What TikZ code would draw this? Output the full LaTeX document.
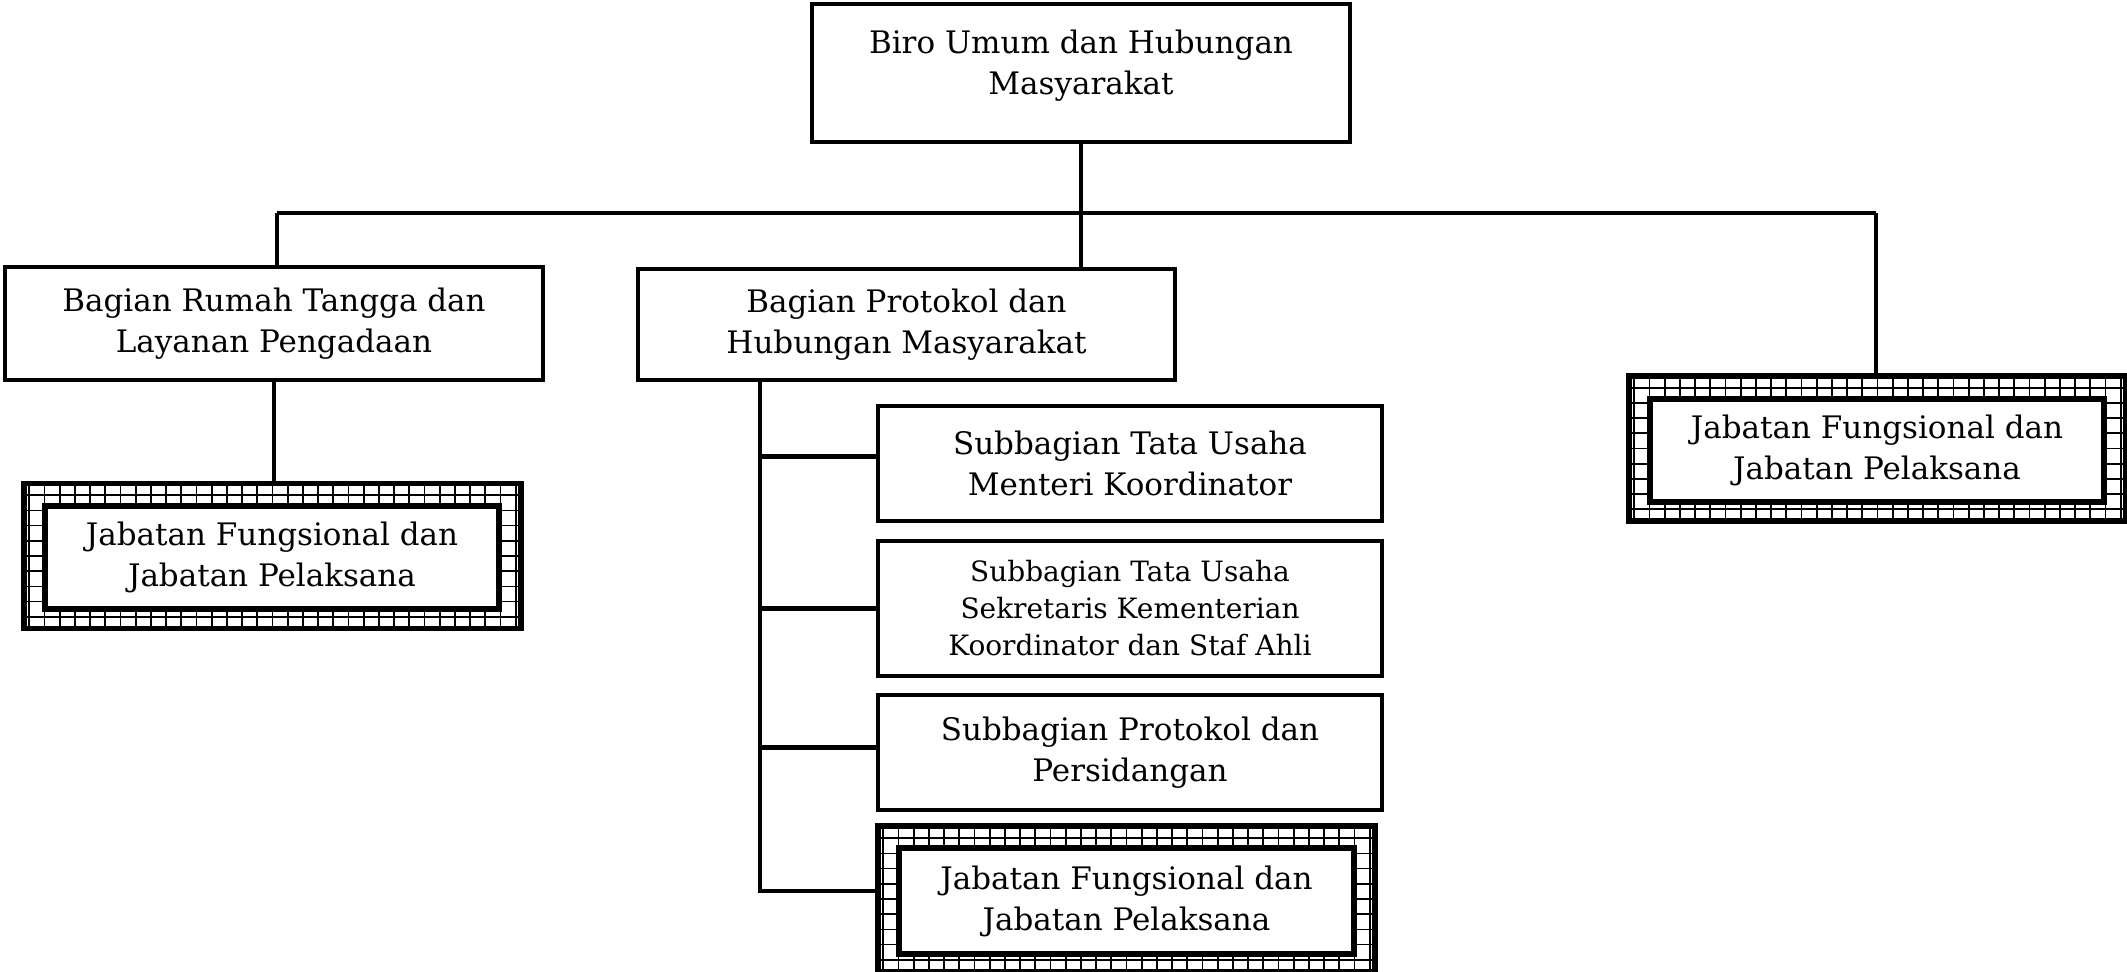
\documentclass[tikz,border=0pt]{standalone}
\usepackage{fontspec}
\setmainfont{DejaVu Serif}
\usepackage{tikz}
\tikzstyle{unit} = [rectangle, draw=black, line width=2.3pt, fill=white, align=center, inner sep=0pt, font=\fontsize{15.5}{20.5}\selectfont]
\tikzstyle{unitsmall} = [unit, font=\fontsize{14}{18.5}\selectfont]
\tikzstyle{jabout} = [rectangle, draw=black, line width=2.6pt, inner sep=0pt, minimum width=248.5pt, minimum height=72.5pt,
  path picture={\draw[line width=0.85pt, step=7.6pt, xshift=1pt, yshift=1pt] ([shift={(-8pt,-8pt)}]path picture bounding box.south west) grid ([shift={(8pt,8pt)}]path picture bounding box.north east);}]
\tikzstyle{jabin} = [unit, line width=2.6pt, minimum width=227pt, minimum height=51.5pt]
\tikzstyle{garis} = [line width=2.3pt]

\begin{document}
\begin{tikzpicture}[x=0.5pt, y=-0.5pt]
    \useasboundingbox (0,0) rectangle (2127,971);

    % pimpinan
    \node (biro) [unit, minimum width=269pt, minimum height=69pt] at (1081,73) {Biro Umum dan Hubungan\\Masyarakat\\[-9.5pt]};

    % bagian
    \node (rumah) [unit, minimum width=269pt, minimum height=56.5pt] at (274,323.5) {Bagian Rumah Tangga dan\\Layanan Pengadaan};
    \node (protokol) [unit, minimum width=268.5pt, minimum height=55.5pt] at (906.5,324.5) {Bagian Protokol dan\\Hubungan Masyarakat};

    % jabatan fungsional
    \node (jf1out) [jabout] at (272.5,556) {};
    \node (jf1) [jabin] at (272,557.5) {Jabatan Fungsional dan\\Jabatan Pelaksana};
    \node (jf3out) [jabout] at (1877.5,448.5) {};
    \node (jf3) [jabin] at (1877,450.5) {Jabatan Fungsional dan\\Jabatan Pelaksana};

    % subbagian
    \node (sub1) [unit, minimum width=252pt, minimum height=57.5pt] at (1130,463.5) {Subbagian Tata Usaha\\Menteri Koordinator};
    \node (sub2) [unitsmall, minimum width=252pt, minimum height=67.5pt] at (1130,608.5) {Subbagian Tata Usaha\\Sekretaris Kementerian\\Koordinator dan Staf Ahli};
    \node (sub3) [unit, minimum width=252pt, minimum height=57.5pt] at (1130,752.5) {Subbagian Protokol dan\\Persidangan};
    \node (jf2out) [jabout, minimum height=73pt] at (1126.5,899) {};
    \node (jf2) [jabin, minimum width=227.5pt, minimum height=53pt] at (1126.5,901) {Jabatan Fungsional dan\\Jabatan Pelaksana};

    \coordinate (busl) at (277,213);
    \coordinate (busr) at (1876,213);
    \coordinate (spine) at (760,380);

    % garis
    \draw [garis] (busl) -- (busr);
    \draw [garis] (biro.south) -- (biro.south |- protokol.north);
    \draw [garis] (busl) -- (busl |- rumah.north);
    \draw [garis] (busr) -- (busr |- jf3out.north);
    \draw [garis] (rumah.south) -- (rumah.south |- jf1out.north);

    \draw [garis] (spine) -- ([yshift=4pt]spine |- jf2out.west) -- ([yshift=4pt]jf2out.west);
    \draw [garis] ([yshift=3.5pt]spine |- sub1.west) -- ([yshift=3.5pt]sub1.west);
    \draw [garis] (spine |- sub2.west) -- (sub2.west);
    \draw [garis] ([yshift=2.5pt]spine |- sub3.west) -- ([yshift=2.5pt]sub3.west);

\end{tikzpicture}
\end{document}
